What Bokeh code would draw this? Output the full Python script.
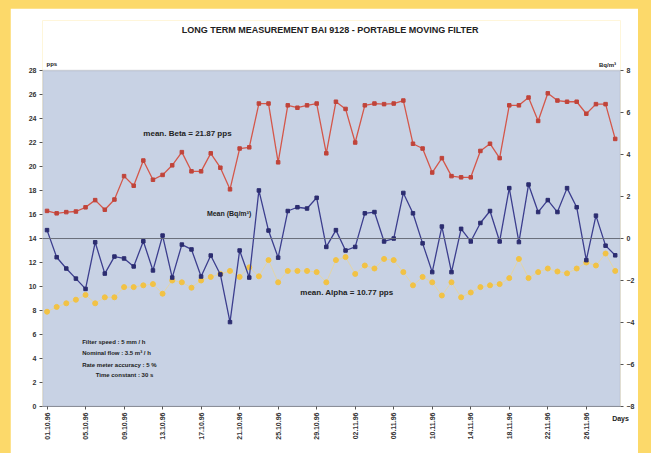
from math import pi
from bokeh.plotting import figure
from bokeh.models import (Range1d, LinearAxis, FixedTicker, Label, Span,
                          BoxAnnotation, Spacer)
from bokeh.layouts import column, row
from bokeh.embed import file_html
from bokeh.resources import INLINE

# ---------------- data ----------------
days = list(range(60))

beta_pps = [16.3, 16.1, 16.2, 16.25, 16.6, 17.2, 16.4, 17.25, 19.2, 18.4,
            20.5, 18.9, 19.3, 20.1, 21.2, 19.6, 19.6, 21.1, 19.9, 18.1,
            21.5, 21.6, 25.25, 25.25, 20.35, 25.1, 24.9, 25.1, 25.25, 21.1,
            25.4, 24.8, 22.0, 25.1, 25.25, 25.2, 25.25, 25.5, 21.9, 21.5,
            19.5, 20.7, 19.2, 19.1, 19.1, 21.3, 21.9, 20.7, 25.1, 25.1,
            25.75, 23.8, 26.1, 25.5, 25.4, 25.4, 24.4, 25.2, 25.2, 22.3]

alpha_pps = [7.9, 8.3, 8.6, 8.9, 9.3, 8.6, 9.1, 9.1, 9.95, 9.95,
             10.1, 10.2, 9.4, 10.5, 10.35, 9.9, 10.5, 10.8, 11.05, 11.3,
             10.8, 11.6, 10.85, 12.2, 10.35, 11.3, 11.3, 11.3, 11.2, 10.35,
             12.2, 12.45, 11.05, 11.75, 11.5, 12.3, 12.2, 11.2, 10.1, 10.8,
             10.35, 9.25, 10.35, 9.1, 9.5, 9.95, 10.1, 10.2, 10.7, 12.3,
             10.7, 11.2, 11.5, 11.25, 11.1, 11.5, 12.0, 11.75, 12.75, 11.3]

mean_bq = [0.40, -0.89, -1.43, -1.91, -2.40, -0.18, -1.67, -0.86, -0.95, -1.33,
           -0.13, -1.52, 0.14, -1.86, -0.29, -0.52, -1.81, -0.81, -1.71, -3.98,
           -0.57, -1.86, 2.29, 0.38, -0.91, 1.31, 1.49, 1.43, 1.94, -0.40,
           0.40, -0.57, -0.40, 1.20, 1.26, -0.14, 0.00, 2.17, 1.20, -0.23,
           -1.60, 0.57, -1.60, 0.46, -0.14, 0.74, 1.31, -0.14, 2.40, -0.17,
           2.57, 1.26, 1.83, 1.26, 2.40, 1.49, -1.03, 1.09, -0.34, -0.80]

tick_days = [0, 4, 8, 12, 16, 20, 24, 28, 32, 36, 40, 44, 48, 52, 56]
tick_labels = ["01.10.96", "05.10.96", "09.10.96", "13.10.96", "17.10.96",
               "21.10.96", "25.10.96", "29.10.96", "02.11.96", "06.11.96",
               "10.11.96", "14.11.96", "18.11.96", "22.11.96", "26.11.96"]
left_ticks = [0, 2, 4, 6, 8, 10, 12, 14, 16, 18, 20, 22, 24, 26, 28]
right_ticks = [-8, -6, -4, -2, 0, 2, 4, 6, 8]
pps_max = 28
bq_min, bq_max = -8, 8
mean_line_pps = 14

title_text = "LONG TERM MEASUREMENT BAI 9128 - PORTABLE MOVING FILTER"
beta_text = "mean. Beta = 21.87 pps"
alpha_text = "mean. Alpha = 10.77 pps"
mean_text = "Mean (Bq/m\u00b3)"
x_unit = "Days"
notes = ["Filter speed : 5 mm / h",
         "Nominal flow : 3.5 m\u00b3 / h",
         "Rate meter accuracy : 5 %",
         "Time constant : 30 s"]

# ---------------- style ----------------
YELLOW = "#FCD96A"
BG = "#C8D2E4"
RED = "#D4574A"
BLUE = "#3C3E8E"
GOLD = "#F2C244"
FONT = "Liberation Sans"
TXT = "#222222"

# the frame reaches up into the title area so the header texts can sit in it;
# the blue plotting area itself is the 0..28 pps box
TOP = 32.17
bq_top = bq_min + TOP * (bq_max - bq_min) / pps_max

p = figure(width=628, height=445,
           x_range=Range1d(-0.47, 59.55), y_range=Range1d(0, TOP),
           output_backend="svg", toolbar_location=None,
           min_border_left=32, min_border_right=18,
           min_border_top=12, min_border_bottom=47,
           background_fill_color="white", border_fill_color="white",
           outline_line_color=None)
p.extra_y_ranges = {"bq": Range1d(bq_min, bq_top)}
p.grid.visible = False

p.add_layout(BoxAnnotation(bottom=0, top=pps_max, fill_color=BG, fill_alpha=1,
                           line_color="#8a8e98", line_width=1.5, level="underlay"))

p.yaxis.ticker = FixedTicker(ticks=left_ticks)
p.xaxis.ticker = FixedTicker(ticks=tick_days)
p.xaxis.major_label_overrides = {d: l for d, l in zip(tick_days, tick_labels)}
p.xaxis.major_label_orientation = pi / 2

ra = LinearAxis(y_range_name="bq", ticker=FixedTicker(ticks=right_ticks))
p.add_layout(ra, "right")

for ax in p.axis:
    ax.axis_line_color = None
    ax.major_tick_line_color = "#555555"
    ax.major_tick_out = 3
    ax.major_tick_in = 0
    ax.minor_tick_line_color = None
    ax.major_label_text_font = FONT
    ax.major_label_text_font_size = "7px"
    ax.major_label_text_font_style = "bold"
    ax.major_label_text_color = "#333333"
    ax.major_label_standoff = 3

xa = p.xaxis[0]
xa.axis_line_color = "#8a8e98"
xa.axis_label = x_unit
xa.axis_label_text_font = FONT
xa.axis_label_text_font_size = "7px"
xa.axis_label_text_font_style = "bold"
xa.axis_label_text_color = TXT
xa.axis_label_standoff = -28
if "axis_label_align" in xa.properties():
    xa.axis_label_align = "end"

p.add_layout(Span(location=mean_line_pps, dimension="width",
                  line_color="#6a6e7a", line_width=1))

# beta (red)
p.line(days, beta_pps, line_color=RED, line_width=1.3)
p.scatter(days, beta_pps, size=3.5, marker="square", fill_color="#C0443A",
          line_color="#C0443A")
# alpha (yellow)
p.line(days, alpha_pps, line_color="#F4D67E", line_width=1, line_alpha=0.6)
p.scatter(days, alpha_pps, size=5, fill_color=GOLD, line_color=GOLD)
# mean Bq/m3 (blue)
p.line(days, mean_bq, y_range_name="bq", line_color=BLUE, line_width=1.3)
p.scatter(days, mean_bq, y_range_name="bq", size=3.5, marker="square",
          fill_color="#2C2D70", line_color="#2C2D70")

def lab(x, y, t, size="7px", align="left", bold=True, base="middle"):
    p.add_layout(Label(x=x, y=y, text=t, text_font=FONT, text_font_size=size,
                       text_font_style="bold" if bold else "normal",
                       text_color=TXT, text_align=align, text_baseline=base))

lab(10.0, 22.75, beta_text, "8px")
lab(16.6, 16.1, mean_text, "7px")
lab(26.3, 9.5, alpha_text, "8px")
lab(3.65, 5.35, notes[0], "6px")
lab(3.65, 4.45, notes[1], "6px")
lab(3.65, 3.5, notes[2], "6px")
lab(5.05, 2.6, notes[3], "6px")

# header texts
lab(29.4, 31.4, title_text, "9px", align="center")
lab(0.5, 28.55, "pps", "6px", align="center")
lab(58.2, 28.5, "Bq/m\u00b3", "6px", align="center")

root = column(Spacer(width=651, height=8),
              row(Spacer(width=10, height=445), p, Spacer(width=13, height=445)),
              styles={"background-color": YELLOW})

open("out.html", "w").write(file_html(root, INLINE))
